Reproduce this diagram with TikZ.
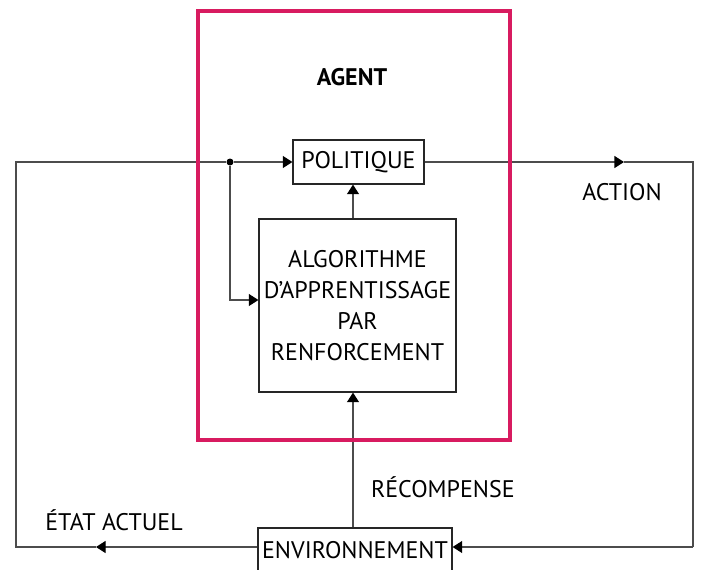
\documentclass[tikz,border=0pt]{standalone}
\usepackage{fontspec}
\setmainfont{PT Sans}
\usetikzlibrary{arrows.meta}
\definecolor{agentpink}{HTML}{D81B60}
\begin{document}
\begin{tikzpicture}[x=0.5pt, y=-0.5pt, font=\fontsize{12}{15.5}\selectfont,
		box/.style={draw=black!85, line width=0.6pt, inner sep=0pt, align=center},
		wire/.style={draw=black!70, line width=0.6pt},
		arr/.style={wire, -{Triangle[length=4.8pt,width=6pt,color=black,fill=black]}}]
		\useasboundingbox (0,0) rectangle (702,569);
		% blocks
		\node[box, minimum width=65.5pt, minimum height=22pt] (pol) at (358.5,162) {POLITIQUE};
		\node[box, minimum width=98.5pt, minimum height=86.5pt] (algo) at (357.5,305.5)
			{ALGORITHME\\D’APPRENTISSAGE\\PAR\\RENFORCEMENT};
		\node[box, minimum width=97pt, minimum height=22pt] (env) at (355,550) {ENVIRONNEMENT};
		\node[circle, fill=black, inner sep=0pt, minimum size=3.5pt] (split) at (230,162) {};
		% labels
		\node[font=\fontsize{12}{14}\selectfont\bfseries] (agent_lbl) at (352,77) {AGENT};
		\node (action_lbl) at (622,192) {ACTION};
		\node[anchor=west] (reward_lbl) at (364,487) {RÉCOMPENSE};
		\node (state_lbl) at (114,520) {ÉTAT ACTUEL};
		% corners of the loop
		\coordinate (axis) at (353,0);
		\coordinate (tl) at (16,162);
		\coordinate (bl) at (16,547);
		\coordinate (tr) at (693,162);
		\coordinate (br) at (693,547);
		\coordinate (act_tip) at (624,162);
		\coordinate (state_tip) at (96,547);
		\coordinate (branch) at (230,300);
		% connectors
		\draw[arr] (split) -- (pol.west);
		\draw[arr] (pol.east) -- (act_tip);
		\draw[wire] (act_tip) -- (tr) -- (br);
		\draw[arr] (br) -- (env.east |- br);
		\draw[arr] (env.west |- bl) -- (state_tip);
		\draw[wire] (state_tip) -- (bl) -- (tl) -- (split);
		\draw[arr] (split) -- (branch) -- (algo.west |- branch);
		\draw[arr] (env.north -| axis) -- (algo.south -| axis);
		\draw[arr] (algo.north -| axis) -- (pol.south -| axis);
		% agent frame
		\node[draw=agentpink, line width=1.6pt, minimum width=156pt, minimum height=214.5pt] (agent) at (354,225.5) {};
\end{tikzpicture}
\end{document}
